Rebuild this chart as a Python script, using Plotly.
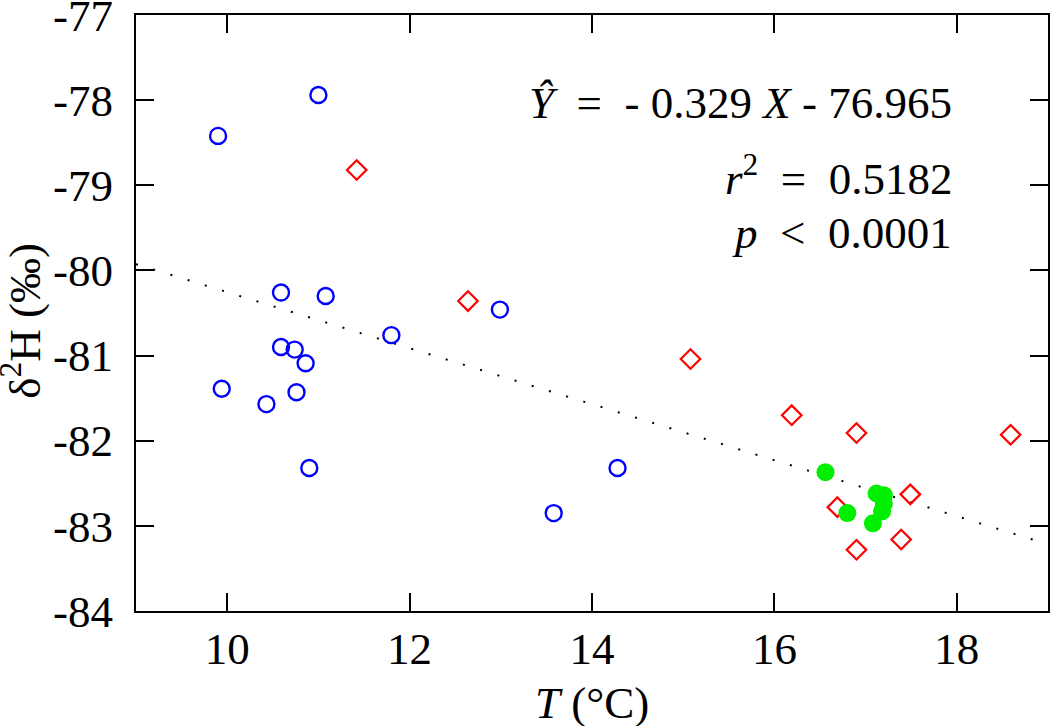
import plotly.graph_objects as go

# Blue open circles
blue_T = [9.90, 11.00, 10.59, 11.08, 12.99, 11.80, 10.59, 10.74, 10.86, 9.94, 10.43, 10.76, 10.90, 13.58, 14.28]
blue_d = [-78.42, -77.94, -80.26, -80.30, -80.46, -80.76, -80.90, -80.93, -81.09, -81.39, -81.57, -81.43, -82.32, -82.85, -82.32]

# Red open diamonds
red_T = [11.42, 12.64, 15.08, 16.19, 16.90, 18.59, 17.49, 16.69, 17.39, 16.90]
red_d = [-78.82, -80.36, -81.04, -81.70, -81.91, -81.93, -82.63, -82.78, -83.16, -83.28]

# Green filled circles
green_T = [16.56, 16.80, 17.08, 17.12, 17.20, 17.20, 17.18]
green_d = [-82.37, -82.85, -82.97, -82.62, -82.64, -82.74, -82.83]

# Regression line
slope = -0.329
intercept = -76.965
trend_T = [9.0, 19.0]
trend_d = [slope * t + intercept for t in trend_T]

x_ticks = [10, 12, 14, 16, 18]
y_ticks = [-77, -78, -79, -80, -81, -82, -83, -84]
y_tick_text = ["-77", "-78", "-79", "-80", "-81", "-82", "-83", "-84"]

FONT = "Liberation Serif, Times New Roman, serif"
EN = "\u2002"

fig = go.Figure()
fig.add_trace(go.Scatter(x=trend_T, y=trend_d, mode="lines",
                         line=dict(color="black", width=2, dash="2px,16px"),
                         hoverinfo="skip", showlegend=False))
fig.add_trace(go.Scatter(x=blue_T, y=blue_d, mode="markers",
                         marker=dict(symbol="circle-open", size=16, color="#0000ff",
                                     line=dict(width=2.4, color="#0000ff")),
                         showlegend=False))
fig.add_trace(go.Scatter(x=red_T, y=red_d, mode="markers",
                         marker=dict(symbol="diamond-open", size=15, color="#ff0000",
                                     line=dict(width=2.2, color="#ff0000")),
                         showlegend=False))
fig.add_trace(go.Scatter(x=green_T, y=green_d, mode="markers",
                         marker=dict(symbol="circle", size=18, color="#00ee00",
                                     line=dict(width=0)),
                         showlegend=False))

axis_common = dict(showline=True, linecolor="black", linewidth=2, mirror="ticks",
                   ticks="inside", ticklen=18, tickwidth=2, tickcolor="black",
                   showgrid=False, zeroline=False, automargin=False,
                   ticklabeloverflow="allow",
                   tickfont=dict(family=FONT, size=45, color="black"))

fig.update_xaxes(range=[9, 19], tickvals=x_ticks, ticklabelstandoff=-3, **axis_common)
fig.update_yaxes(range=[-84, -77], tickvals=y_ticks, ticktext=y_tick_text,
                 ticklabelstandoff=12, **axis_common)

title_font = dict(family=FONT, size=45, color="black")
fig.add_annotation(text="<i>T</i> (°C)", xref="paper", yref="paper", x=0.5, y=-0.155,
                   xanchor="center", yanchor="middle", showarrow=False, font=title_font)
fig.add_annotation(text="δ<sup>2</sup>H (‰)", xref="paper", yref="paper", x=-0.125, y=0.487,
                   xanchor="center", yanchor="middle", textangle=-90, showarrow=False,
                   font=title_font)

ann_font = dict(family=FONT, size=45, color="black")
annots = [
    (f"<i>Ŷ</i>{EN}={EN}- 0.329 <i>X</i> - 76.965", 0.853),
    (f"<i>r</i><sup>2</sup>{EN}={EN}0.5182", 0.7315),
    (f"<i>p</i>{EN}&lt;{EN}0.0001", 0.634),
]
for txt, yy in annots:
    fig.add_annotation(text=txt, xref="paper", yref="paper", x=0.8964, y=yy,
                       xanchor="right", yanchor="middle", showarrow=False, font=ann_font)

fig.update_layout(width=1050, height=726, margin=dict(l=136, r=2, t=15, b=115),
                  plot_bgcolor="white", paper_bgcolor="white",
                  font=dict(family=FONT, size=45, color="black"))

fig.write_html("out.html", config={"displayModeBar": False},
               post_script="document.body.style.margin='0';")
